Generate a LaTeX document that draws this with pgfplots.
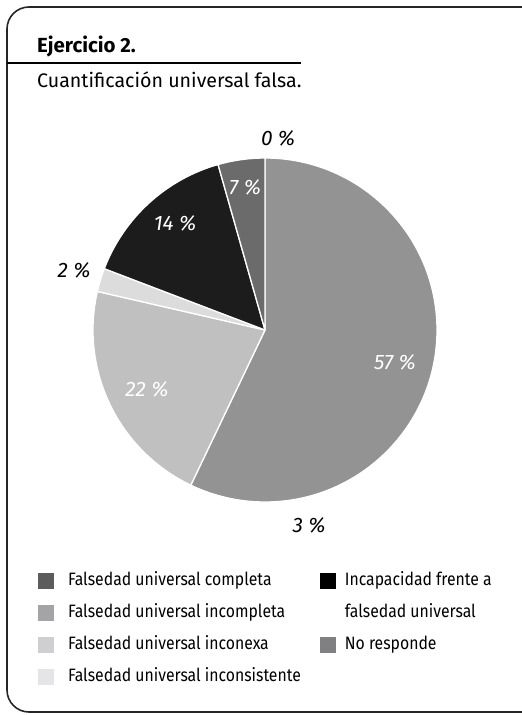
\documentclass[border=0pt]{standalone}
\usepackage{fontspec}
\setmainfont{Fira Sans}
\newfontfamily\condfont[FakeStretch=0.88]{Fira Sans}
\usepackage{pgfplots}
\usepackage{pgfplotstable}
\pgfplotsset{compat=1.18}

% slice greys
\definecolor{sIncompleta}{HTML}{939393}
\definecolor{sInconexa}{HTML}{C0C0C0}
\definecolor{sInconsistente}{HTML}{DCDCDC}
\definecolor{sIncapacidad}{HTML}{1C1C1C}
\definecolor{sCompleta}{HTML}{6B6B6B}
% legend greys
\definecolor{lCompleta}{HTML}{5C5C5C}
\definecolor{lIncompleta}{HTML}{A4A4A6}
\definecolor{lInconexa}{HTML}{CFCFD1}
\definecolor{lInconsistente}{HTML}{E5E5E7}
\definecolor{lIncapacidad}{HTML}{000000}
\definecolor{lNoResponde}{HTML}{808083}

% slices as drawn, clockwise from the top (share in %)
\pgfplotstableread{
share col
57.1  sIncompleta
21.5  sInconexa
2.2   sInconsistente
14.8  sIncapacidad
4.4   sCompleta
}\slices
\pgfplotstablecreatecol[create col/expr accum={\pgfmathaccuma+\thisrow{share}}{0}]{cum}\slices

% printed percentages (position in pie radii)
\pgfplotstableread{
x      y      label
0.756  -0.186 57
-0.686 -0.343 22
-0.523 0.622  14
-0.116 0.831  7
}\inlabels
\pgfplotstableread{
x      y      label
0.076  1.116  0
-1.110 0.349  2
0.256  -1.134 3
}\outlabels

\begin{document}
\begin{tikzpicture}
\useasboundingbox (0,0) rectangle (522bp,-715bp);
\clip (0,0) rectangle (522bp,-715bp);
\draw[line width=1.6bp, color=black!85, rounded corners=22bp] (7bp,-7bp) rectangle (545bp,-712bp);
\draw[line width=1.8bp] (7bp,-63bp) -- (301bp,-63bp);
\node[anchor=base west, inner sep=0pt, font=\fontsize{20.5}{24}\selectfont\bfseries] at (37bp,-52bp) {Ejercicio 2.};
\node[anchor=base west, inner sep=0pt, font=\fontsize{19.7}{23}\selectfont] at (37bp,-87bp) {Cuantificación universal falsa.};

\begin{axis}[
  at={(265bp,-330bp)}, anchor=origin,
  x=172bp, y=172bp,
  xmin=-1.5, xmax=1.5, ymin=-1.5, ymax=1.5,
  hide axis, clip=false,
  legend columns=2,
  legend cell align=left,
  legend image code/.code={\fill[#1, draw=none] (0bp,-8bp) rectangle (16bp,8bp);},
  legend style={
    at={(0.0601,0.031)}, anchor=north west,
    draw=none, fill=none, inner sep=0pt, outer sep=0pt,
    font=\condfont\fontsize{18}{20}\selectfont,
    nodes={inner sep=0pt, text height=13bp, text depth=4bp},
    row sep=15bp, column sep=0pt,
    /tikz/column 1/.append style={column sep=14bp},
    /tikz/column 2/.append style={column sep=19bp},
    /tikz/column 3/.append style={column sep=9bp},
  },
]
\pgfplotsinvokeforeach{0,...,4}{
  \pgfplotstablegetelem{#1}{share}\of\slices \let\sh\pgfplotsretval
  \pgfplotstablegetelem{#1}{cum}\of\slices \let\cm\pgfplotsretval
  \pgfplotstablegetelem{#1}{col}\of\slices \let\cl\pgfplotsretval
  \pgfmathsetmacro\aEnd{90-3.6*\cm}
  \pgfmathsetmacro\aStart{90-3.6*(\cm-\sh)}
  \edef\slice{\noexpand\filldraw[fill=\cl, draw=white, line width=1.3bp, line join=round]
    (axis cs:0,0) -- (axis cs:{cos(\aStart)},{sin(\aStart)})
    arc[start angle=\aStart, end angle=\aEnd, radius=172bp] -- cycle;}
  \slice
}
\addplot[forget plot, draw=none, mark=none, point meta=explicit symbolic,
  nodes near coords={\pgfplotspointmeta~\%}, nodes near coords align=center,
  nodes near coords style={text=white, anchor=center, font=\fontsize{21}{24}\selectfont\itshape}]
  table[meta=label] {\inlabels};
\addplot[forget plot, draw=none, mark=none, point meta=explicit symbolic,
  nodes near coords={\pgfplotspointmeta~\%}, nodes near coords align=center,
  nodes near coords style={text=black, anchor=center, font=\fontsize{21}{24}\selectfont\itshape}]
  table[meta=label] {\outlabels};

\addlegendimage{fill=lCompleta}
\addlegendentry{Falsedad universal completa}
\addlegendimage{fill=lIncapacidad}
\addlegendentry{Incapacidad frente a}
\addlegendimage{fill=lIncompleta}
\addlegendentry{Falsedad universal incompleta}
\addlegendimage{empty legend}
\addlegendentry{falsedad universal}
\addlegendimage{fill=lInconexa}
\addlegendentry{Falsedad universal inconexa}
\addlegendimage{fill=lNoResponde}
\addlegendentry{No responde}
\addlegendimage{fill=lInconsistente}
\addlegendentry{Falsedad universal inconsistente}
\end{axis}
\end{tikzpicture}
\end{document}
